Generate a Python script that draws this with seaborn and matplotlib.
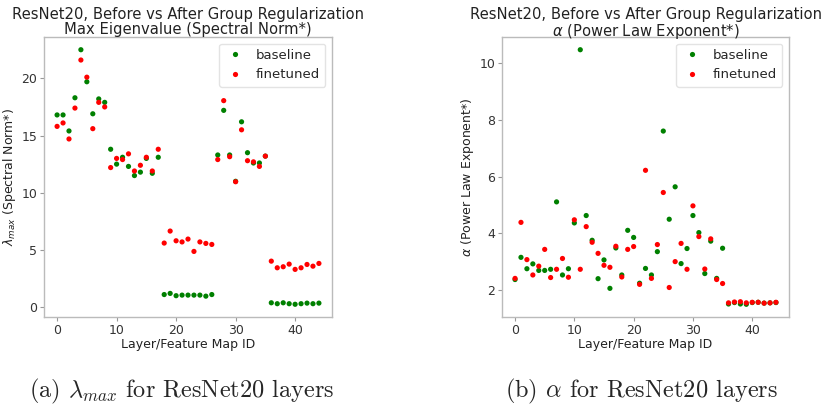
import numpy as np
import pandas as pd
import matplotlib
matplotlib.use("Agg")
import matplotlib.pyplot as plt
import seaborn as sns

layers = list(range(45))

lam_baseline = [16.8, 16.8, 15.4, 18.3, 22.5, 19.7, 16.9, 18.2, 17.9, 13.8,
                12.5, 13.1, 12.3, 11.5, 11.8, 13.0, 11.7, 13.1, 1.1, 1.2,
                1.0, 1.05, 1.05, 1.05, 1.05, 0.96, 1.1, 13.3, 17.2, 13.3,
                11.0, 16.2, 13.5, 12.6, 12.6, 13.2, 0.38, 0.30, 0.38, 0.30,
                0.25, 0.30, 0.35, 0.30, 0.35]
lam_finetuned = [15.8, 16.1, 14.7, 17.4, 21.6, 20.1, 15.6, 17.9, 17.5, 12.2,
                 13.0, 12.9, 13.4, 11.9, 12.4, 13.1, 11.9, 13.8, 5.6, 6.65,
                 5.8, 5.7, 5.95, 4.87, 5.7, 5.57, 5.48, 12.9, 18.05, 13.15,
                 10.96, 15.5, 12.8, 12.7, 12.3, 13.2, 4.02, 3.44, 3.53, 3.76,
                 3.3, 3.44, 3.73, 3.58, 3.82]

alpha_baseline = [2.38, 3.16, 2.76, 2.93, 2.70, 2.70, 2.74, 5.11, 2.54, 2.76,
                  4.37, 10.46, 4.63, 3.76, 2.41, 3.07, 2.07, 3.49, 2.54, 4.11,
                  3.86, 2.25, 2.77, 2.54, 3.36, 7.60, 4.50, 5.64, 2.94, 3.47,
                  4.63, 4.03, 2.59, 3.73, 2.42, 3.48, 1.52, 1.57, 1.52, 1.51,
                  1.57, 1.58, 1.55, 1.56, 1.57]
alpha_finetuned = [2.42, 4.39, 3.08, 2.54, 2.85, 3.44, 2.45, 2.74, 3.12, 2.46,
                   4.48, 2.74, 4.24, 3.69, 3.30, 2.88, 2.81, 3.55, 2.47, 3.44,
                   3.54, 2.21, 6.22, 2.42, 3.61, 5.44, 2.10, 3.01, 3.65, 2.74,
                   4.97, 3.89, 2.75, 3.81, 2.38, 2.24, 1.56, 1.59, 1.60, 1.56,
                   1.58, 1.58, 1.55, 1.56, 1.58]

series_names = ["baseline", "finetuned"]
palette = {"baseline": "green", "finetuned": "red"}

titles = ["ResNet20, Before vs After Group Regularization\nMax Eigenvalue (Spectral Norm*)",
          "ResNet20, Before vs After Group Regularization\n$\\alpha$ (Power Law Exponent*)"]
title_pads = [2, 0.5]
ylabels = ["$\\lambda_{max}$ (Spectral Norm*)", "$\\alpha$ (Power Law Exponent*)"]
xlabel = "Layer/Feature Map ID"
captions = ["(a) $\\lambda_{max}$ for ResNet20 layers", "(b) $\\alpha$ for ResNet20 layers"]

sns.set_style("white")
plt.rcParams["font.family"] = ["DejaVu Sans"]

fig = plt.figure(figsize=(8.23, 4.05), dpi=100)
ax1 = fig.add_axes([44/823, 88/405, 288/823, 280/405])
ax2 = fig.add_axes([502/823, 88/405, 287/823, 280/405])

def make_df(b, f):
    return pd.DataFrame({
        "layer": layers + layers,
        "value": list(b) + list(f),
        "series": [series_names[0]] * len(b) + [series_names[1]] * len(f),
    })

for ax, (b, f), title, tpad, ylab in zip([ax1, ax2],
                                    [(lam_baseline, lam_finetuned), (alpha_baseline, alpha_finetuned)],
                                    titles, title_pads, ylabels):
    df = make_df(b, f)
    sns.scatterplot(data=df, x="layer", y="value", hue="series", palette=palette,
                    s=14, linewidth=0, ax=ax)
    ax.set_title(title, fontsize=10.6, color="#222222", pad=tpad, linespacing=1.0)
    ax.set_xlabel(xlabel, fontsize=9, color="#222222", labelpad=1)
    ax.set_ylabel(ylab, fontsize=9, color="#222222", labelpad=2)
    ax.tick_params(axis="both", labelsize=9, colors="#333333", length=3,
                   color="#999999", left=True, bottom=True, pad=2)
    for sp in ax.spines.values():
        sp.set_color("#bbbbbb")
        sp.set_linewidth(1.0)
    ax.set_xticks([0, 10, 20, 30, 40])
    leg = ax.legend(loc="upper right", fontsize=9.5, title=None,
                    handlelength=1.6, handletextpad=0.8)
    leg.get_frame().set_edgecolor("#dddddd")

ax1.set_yticks([0, 5, 10, 15, 20])
ax2.set_yticks([2, 4, 6, 8, 10])

fig.text(182/823, 8/405, captions[0], ha="center", va="baseline", fontsize=17.5,
         family="cmr10", math_fontfamily="cm")
fig.text(641/823, 8/405, captions[1], ha="center", va="baseline", fontsize=17.5,
         family="cmr10", math_fontfamily="cm")

fig.savefig("out.png", dpi=100)
